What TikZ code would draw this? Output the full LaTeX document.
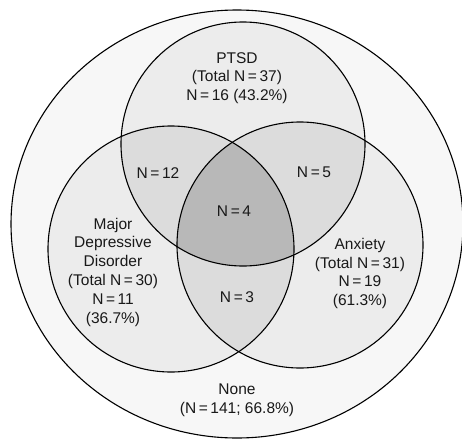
\documentclass[tikz,border=0pt]{standalone}
\usepackage{fontspec}
\setmainfont{Liberation Sans}
\definecolor{outerfill}{HTML}{F7F7F7}
\definecolor{singlefill}{HTML}{ECECEC}
\definecolor{doublefill}{HTML}{DCDCDC}
\definecolor{triplefill}{HTML}{B8B8B8}
\begin{document}
\begin{tikzpicture}[x=1pt,y=1pt,
  lbl/.style={font=\fontsize{15.5}{18.8}\selectfont, align=center, text=black!90, inner sep=0pt},
  ring/.style={draw=black, line width=1.1pt}]
\useasboundingbox (0,0) rectangle (462,440);
\def\vPtsd{(243,296) circle (122)}
\def\vMdd{(171,191) circle (123)}
\def\vAnx{(300,195) circle (123)}
\fill[outerfill] (237,216) ellipse (226 and 214);
\fill[singlefill] \vPtsd;
\fill[singlefill] \vMdd;
\fill[singlefill] \vAnx;
\begin{scope}\clip \vPtsd; \fill[doublefill] \vMdd; \fill[doublefill] \vAnx; \end{scope}
\begin{scope}\clip \vMdd; \fill[doublefill] \vAnx; \end{scope}
\begin{scope}\clip \vPtsd; \clip \vMdd; \fill[triplefill] \vAnx; \end{scope}
\draw[ring] (237,216) ellipse (226 and 214);
\draw[ring] \vPtsd;
\draw[ring] \vMdd;
\draw[ring] \vAnx;
\node[lbl] (ptsd) at (237,362) {PTSD\\(Total N\,=\,37)\\N\,=\,16 (43.2\%)};
\node[lbl] (pm) at (158,267) {N\,=\,12};
\node[lbl] (pa) at (314,268) {N\,=\,5};
\node[lbl] (pma) at (234,229) {N\,=\,4};
\node[lbl] (mdd) at (113,168) {Major\\Depressive\\Disorder\\(Total N\,=\,30)\\N\,=\,11\\(36.7\%)};
\node[lbl] (ma) at (237,143) {N\,=\,3};
\node[lbl] (anx) at (360,166.5) {Anxiety\\(Total N\,=\,31)\\N\,=\,19\\(61.3\%)};
\node[lbl] (none) at (237,40) {None\\(N\,=\,141; 66.8\%)};
\end{tikzpicture}
\end{document}
